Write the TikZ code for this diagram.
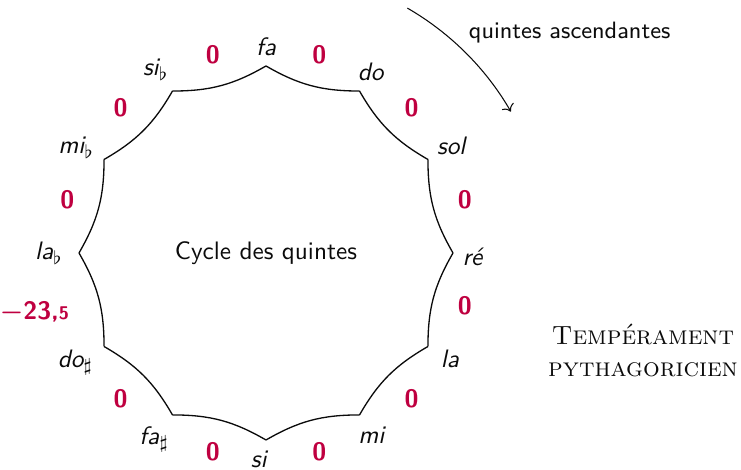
\documentclass[tikz,border=0pt]{standalone}
\usepackage{amsmath,amssymb}
\usepackage{tikz}
\usetikzlibrary{arrows.meta,calc}
\definecolor{ecart}{HTML}{BF0040}
\definecolor{trait}{HTML}{0B0B0B}
\tikzset{
  note/.style={font=\fontsize{9.6}{11}\sffamily\itshape,text=trait,inner sep=1pt},
  dev/.style={font=\fontsize{9.6}{11}\sffamily\bfseries,text=ecart,inner sep=1pt},
  arcq/.style={draw=trait,line width=0.5pt,bend right=15},
  sens/.style={->,draw=trait,line width=0.4pt},
  titre/.style={font=\fontsize{9.6}{11}\sffamily,text=trait},
}

\begin{document}
\begin{tikzpicture}[x=1cm,y=1cm]
  \useasboundingbox (-3.556,-2.888) rectangle (6.350,3.382);
  % sommets du cycle
  \coordinate (fa)  at (90:2.5);
  \coordinate (do)  at (60:2.5);
  \coordinate (sol) at (30:2.5);
  \coordinate (re)  at (0:2.5);
  \coordinate (la)  at (-30:2.5);
  \coordinate (mi)  at (-60:2.5);
  \coordinate (si)  at (-90:2.5);
  \coordinate (fas) at (-120:2.5);
  \coordinate (dos) at (-150:2.5);
  \coordinate (lab) at (180:2.5);
  \coordinate (mib) at (150:2.5);
  \coordinate (sib) at (120:2.5);
  \draw[arcq] (fa) to (do);
  \draw[arcq] (do) to (sol);
  \draw[arcq] (sol) to (re);
  \draw[arcq] (re) to (la);
  \draw[arcq] (la) to (mi);
  \draw[arcq] (mi) to (si);
  \draw[arcq] (si) to (fas);
  \draw[arcq] (fas) to (dos);
  \draw[arcq] (dos) to (lab);
  \draw[arcq] (lab) to (mib);
  \draw[arcq] (mib) to (sib);
  \draw[arcq] (sib) to (fa);
  % noms des notes
  \node[note] (nfa)  at (90:2.76)   {fa};
  \node[note] (ndo)  at (60:2.8)    {do};
  \node[note] (nsol) at (30:2.86)   {sol};
  \node[note] (nre)  at (-1:2.76)   {ré};
  \node[note] (nla)  at (-30:2.84)  {la};
  \node[note] (nmi)  at (-60:2.82)  {mi};
  \node[note] (nsi)  at (-92:2.76)  {si};
  \node[note] (nfas) at (-121:2.9)  {fa$_\sharp$};
  \node[note] (ndos) at (-150:2.94) {do$_\sharp$};
  \node[note] (nlab) at (180:2.9)   {la$_\flat$};
  \node[note] (nmib) at (151:2.9)   {mi$_\flat$};
  \node[note] (nsib) at (121:2.86)  {si$_\flat$};
  % ecarts entre quintes
  \node[dev] (e1)  at (75:2.75)   {0};
  \node[dev] (e2)  at (45:2.75)   {0};
  \node[dev] (e3)  at (15:2.75)   {0};
  \node[dev] (e4)  at (-15:2.75)  {0};
  \node[dev] (e5)  at (-45:2.75)  {0};
  \node[dev] (e6)  at (-75:2.75)  {0};
  \node[dev] (e7)  at (-105:2.75) {0};
  \node[dev] (e8)  at (-135:2.75) {0};
  \node[dev,anchor=east] (e9) at (197:2.71)
    {{\boldmath$-$}23,{\scriptsize 5}};
  \node[dev] (e10) at (165:2.75)  {0};
  \node[dev] (e11) at (135:2.75)  {0};
  \node[dev] (e12) at (105:2.75)  {0};
  \node[titre] (cycle) at (0,0) {Cycle des quintes};
  % sens de parcours
  \coordinate (s0) at (60:3.78);
  \draw[sens] (s0) arc (60:30:3.78);
  \node[titre,font=\sffamily\small] (asc) at (4.06,2.94) {quintes ascendantes};
  \node[align=center,text=trait] (temp) at (5.04,-1.30)
    {\textsc{Tempérament}\\ \textsc{pythagoricien}};
\end{tikzpicture}
\end{document}
